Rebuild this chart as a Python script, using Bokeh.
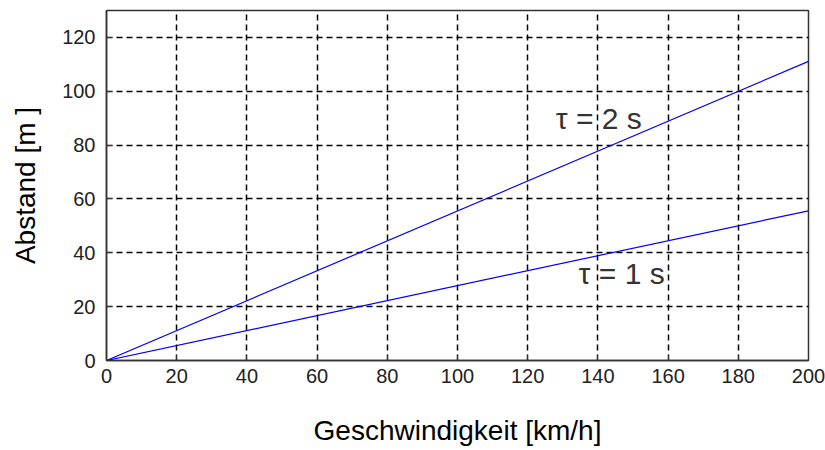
from bokeh.plotting import figure
from bokeh.embed import file_html
from bokeh.resources import INLINE
from bokeh.models import FixedTicker, Range1d
from bokeh.core.properties import value

# Data
speed = [0, 200]                 # km/h
dist_tau1 = [0, 55.6]            # m, tau = 1 s
dist_tau2 = [0, 111.1]           # m, tau = 2 s
x_ticks = [0, 20, 40, 60, 80, 100, 120, 140, 160, 180, 200]
y_ticks = [0, 20, 40, 60, 80, 100, 120]
labels = ["τ = 2 s", "τ = 1 s"]
label_x = [128, 134.5]
label_y = [90, 32.5]

p = figure(width=825, height=450, output_backend="svg", toolbar_location=None,
           x_range=Range1d(0, 200), y_range=Range1d(0, 130),
           min_border_left=106, min_border_right=17, min_border_top=10, min_border_bottom=90)

p.line(speed, dist_tau2, line_color="#0000FF", line_width=1.2)
p.line(speed, dist_tau1, line_color="#0000FF", line_width=1.2)

p.text(x=label_x, y=label_y, text=labels, text_font=value("Liberation Sans"),
       text_font_size="30px", text_color="#333333", text_baseline="middle", text_align="left")

p.outline_line_color = "#333333"
p.outline_line_width = 1.5
p.background_fill_color = "white"
p.border_fill_color = "white"

for ax in (p.xaxis[0], p.yaxis[0]):
    ax.major_tick_in = 6
    ax.major_tick_out = 0
    ax.minor_tick_in = 0
    ax.minor_tick_out = 0
    ax.axis_line_color = "#333333"
    ax.axis_line_width = 1.5
    ax.major_tick_line_color = "#333333"
    ax.major_label_text_font = "Liberation Sans"
    ax.major_label_text_font_size = "20px"
    ax.major_label_text_color = "#222222"
    ax.axis_label_text_font = "Liberation Sans"
    ax.axis_label_text_font_size = "28px"
    ax.axis_label_text_font_style = "normal"
    ax.axis_label_text_color = "#000000"

p.xaxis[0].ticker = FixedTicker(ticks=x_ticks)
p.yaxis[0].ticker = FixedTicker(ticks=y_ticks)
p.xaxis[0].axis_label = "Geschwindigkeit [km/h]"
p.yaxis[0].axis_label = "Abstand [m ]"
p.xaxis[0].axis_label_standoff = 29
p.yaxis[0].axis_label_standoff = 18
p.xaxis[0].major_label_standoff = 8
p.yaxis[0].major_label_standoff = 11

p.grid.grid_line_color = "#000000"
p.grid.grid_line_dash = "6 4"
p.grid.grid_line_width = 1.5
p.xgrid.ticker = FixedTicker(ticks=x_ticks)
p.ygrid.ticker = FixedTicker(ticks=y_ticks)

open("out.html", "w").write(file_html(p, INLINE))
